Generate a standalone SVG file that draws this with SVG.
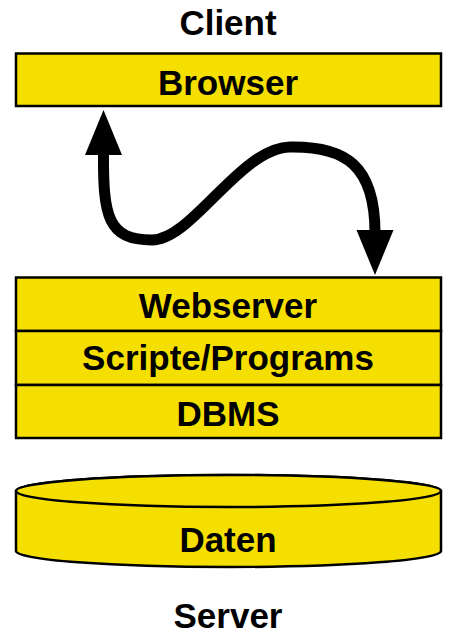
<svg xmlns="http://www.w3.org/2000/svg" width="449" height="636" viewBox="0 0 449 636">
<style>
.box{fill:#f5df00;stroke:#000;stroke-width:2.5}
.t{font-family:"Liberation Sans",Arial,sans-serif;font-weight:bold;font-size:35px;text-anchor:middle;fill:#000}
.conn{fill:none;stroke:#000;stroke-width:11;stroke-linecap:butt}
.head{fill:#000}
</style>
<text class="t" x="228" y="35">Client</text>
<g id="browser">
<rect class="box" x="16" y="53.5" width="425" height="52.5"/>
<text class="t" x="228" y="95">Browser</text>
</g>
<g id="connectors">
<path class="conn" d="M103.5 152 C103 217 108 240 152 240 C192 240 240 148 290 147 C345 146 375 165 375 233"/>
<path class="head" d="M103.5 110 L122 155 L85 155 Z"/>
<path class="head" d="M375 275 L393.5 230 L356.5 230 Z"/>
</g>
<g id="webserver">
<rect class="box" x="16" y="277.5" width="425" height="53.5"/>
<text class="t" x="228" y="318">Webserver</text>
</g>
<g id="scripte">
<rect class="box" x="16" y="331" width="425" height="54"/>
<text class="t" x="228" y="370">Scripte/Programs</text>
</g>
<g id="dbms">
<rect class="box" x="16" y="385" width="425" height="53"/>
<text class="t" x="228" y="426">DBMS</text>
</g>
<g id="daten">
<path class="box" d="M16 491 L16 551 A212.5 16 0 0 0 441 551 L441 491 A212.5 16 0 0 0 16 491 Z"/>
<ellipse class="box" cx="228.5" cy="491" rx="212.5" ry="16"/>
<text class="t" x="228" y="552">Daten</text>
</g>
<text class="t" x="228" y="628">Server</text>
</svg>
